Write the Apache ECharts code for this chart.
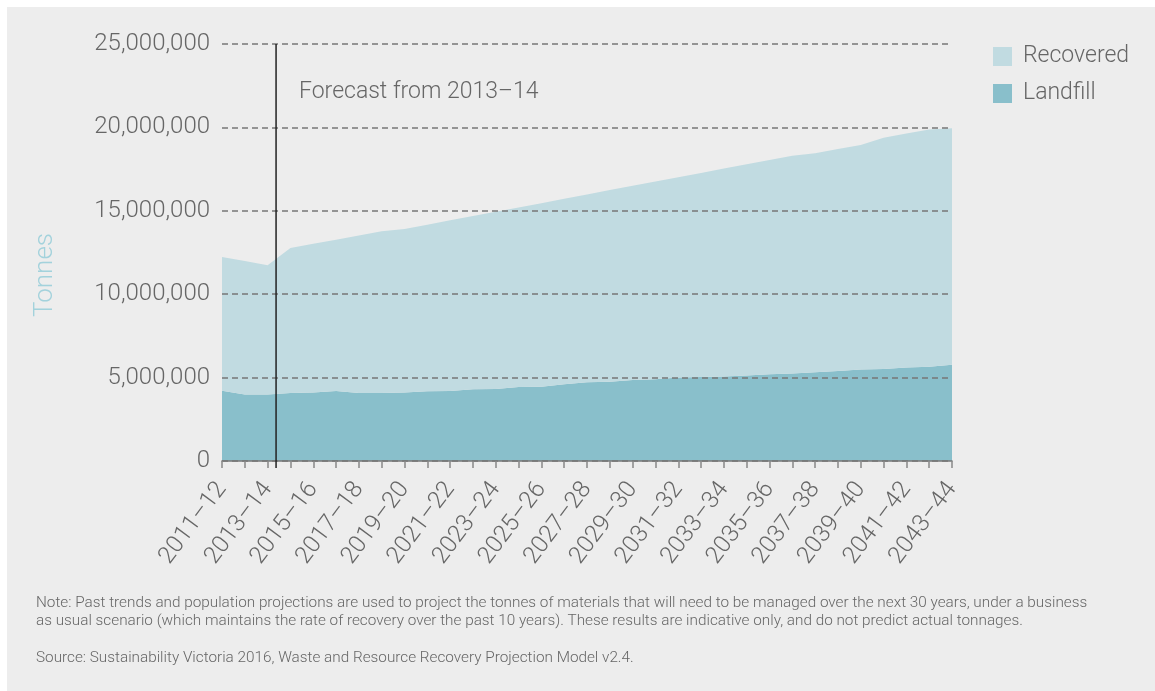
<!DOCTYPE html>
<html>
<head>
<meta charset="utf-8">
<script src="https://cdn.jsdelivr.net/npm/echarts@6/dist/echarts.min.js"></script>
<style>
html,body{margin:0;padding:0;background:#fff;}
#chart{width:1155px;height:691px;}
</style>
</head>
<body>
<div id="chart"></div>
<script>
const categories = ['2011–12','2012–13','2013–14','2014–15','2015–16','2016–17','2017–18','2018–19','2019–20','2020–21','2021–22','2022–23','2023–24','2024–25','2025–26','2026–27','2027–28','2028–29','2029–30','2030–31','2031–32','2032–33','2033–34','2034–35','2035–36','2036–37','2037–38','2038–39','2039–40','2040–41','2041–42','2042–43','2043–44'];
const landfill = [4210000,3980000,3980000,4080000,4100000,4200000,4080000,4080000,4100000,4180000,4200000,4300000,4320000,4430000,4450000,4600000,4720000,4750000,4860000,4900000,5000000,5030000,5060000,5120000,5200000,5250000,5320000,5400000,5480000,5520000,5600000,5650000,5770000];
const recovered = [8020000,8010000,7750000,8690000,8920000,9070000,9440000,9690000,9810000,9990000,10230000,10390000,10630000,10770000,11010000,11120000,11260000,11490000,11640000,11860000,12010000,12240000,12470000,12670000,12840000,13050000,13130000,13300000,13460000,13860000,14030000,14230000,14180000];
const yTicks = [0, 5000000, 10000000, 15000000, 20000000, 25000000];
const forecastLine = [[2.37, -420000], [2.37, 25000000]];
const forecastLabel = 'Forecast from 2013–14';
const yAxisTitle = 'Tonnes';
const noteLines = [
  'Note: Past trends and population projections are used to project the tonnes of materials that will need to be managed over the next 30 years, under a business',
  'as usual scenario (which maintains the rate of recovery over the past 10 years). These results are indicative only, and do not predict actual tonnages.'
];
const sourceLine = 'Source: Sustainability Victoria 2016, Waste and Resource Recovery Projection Model v2.4.';

const FONT = 'Roboto';
const TXT = '#666666';
const chart = echarts.init(document.getElementById('chart'));
chart.setOption({
  backgroundColor: '#ffffff',
  animation: false,
  textStyle: {fontFamily: FONT, fontWeight: 300},
  graphic: [
    {type:'rect', z:-10, silent:true, shape:{x:7,y:7,width:1148,height:684}, style:{fill:'#ededed'}},
    {type:'text', left:299, top:81, style:{text: forecastLabel, fill:TXT, font:'300 23px Roboto'}},
    {type:'text', x:45, y:275, rotation:Math.PI/2, style:{text: yAxisTitle, fill:'#a3d2dc', font:'300 26px Roboto', align:'center', verticalAlign:'middle'}},
    {type:'text', left:36, top:594, style:{text: noteLines.join('\n'), fill:TXT, font:'300 15.3px Roboto', lineHeight:18}},
    {type:'text', left:36, top:651, style:{text: sourceLine, fill:TXT, font:'300 15.3px Roboto'}}
  ],
  legend: {
    orient:'vertical', left:988, top:40,
    itemWidth:19, itemHeight:19, itemGap:14,
    icon:'rect',
    data:['Recovered','Landfill'],
    textStyle:{color:TXT, fontSize:23, fontFamily:FONT, fontWeight:300, padding:[0,0,0,6]}
  },
  grid: {left:222, right:203, top:44, bottom:230, containLabel:false, outerBoundsMode:'none'},
  xAxis: [
    {
      type:'category', data:categories, boundaryGap:false, z:10,
      axisLine:{lineStyle:{color:'#777', width:1.5}},
      axisTick:{show:true, interval:0, length:7, lineStyle:{color:'#888', width:1.5}},
      axisLabel:{interval:1, rotate:53, color:TXT, fontSize:24, fontFamily:FONT, fontWeight:300, margin:24},
      splitLine:{show:false}
    },
    {type:'value', min:0, max:32, show:false}
  ],
  yAxis: {
    type:'value', min:0, max:25000000, interval:5000000, z:10,
    axisLine:{show:false}, axisTick:{show:false},
    axisLabel:{color:TXT, fontSize:24, fontFamily:FONT, fontWeight:300, margin:12,
      formatter: v => yTicks.includes(v) ? v.toLocaleString('en-US') : ''},
    splitLine:{show:true, lineStyle:{color:'#777', width:1.5, type:[6,4]}}
  },
  series: [
    {name:'Landfill', type:'line', stack:'t', data:landfill, symbol:'none',
     lineStyle:{width:0}, areaStyle:{color:'#89bfcb', opacity:1}, itemStyle:{color:'#89bfcb'}, z:1},
    {name:'Recovered', type:'line', stack:'t', data:recovered, symbol:'none',
     lineStyle:{width:0}, areaStyle:{color:'#c1dbe1', opacity:1}, itemStyle:{color:'#c1dbe1'}, z:1},
    {name:'forecast', type:'line', xAxisIndex:1, data:forecastLine, symbol:'none', clip:false,
     lineStyle:{color:'#222', width:1.5}, z:20, zlevel:0, silent:true}
  ]
});
</script>
</body>
</html>
